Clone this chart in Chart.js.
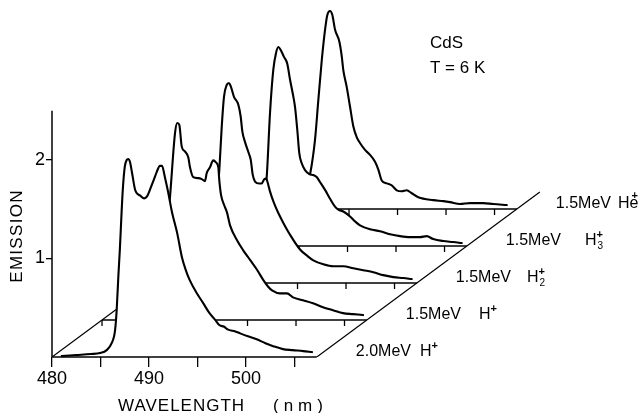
<!DOCTYPE html>
<html><head><meta charset="utf-8">
<script src="https://cdn.jsdelivr.net/npm/chart.js@4"></script>
<style>html,body{margin:0;padding:0;background:#fff}#wrap{width:638px;height:413px;position:relative}</style>
</head><body><div id="wrap"><canvas id="c"></canvas></div>
<script>
// ---------- data ----------
const energies = ['2.0MeV', '1.5MeV', '1.5MeV', '1.5MeV', '1.5MeV'];
const ions     = ['H', 'H', 'H', 'H', 'He'];
const ionSubs  = ['', '', '2', '3', ''];
const xTicks = [480, 485, 490, 495, 500, 505];
const xLabelTicks = [480, 490, 500];
const yTicks = [1, 2];

// 2.0 MeV H+ (front)
const wl0 = [481.0, 482.5, 484.0, 484.95, 485.64, 486.15, 486.5, 486.67, 486.84, 487.0, 487.15, 487.3, 487.5, 487.7, 487.85, 488.04, 488.25, 488.56, 488.76, 489.07, 489.5, 489.8, 490.1, 490.5, 490.8, 491.13, 491.34, 491.65, 491.96, 492.37, 492.9, 493.4, 493.8, 494.2, 494.85, 495.57, 496.2, 496.8, 497.3, 497.7, 498.1, 498.9, 499.4, 500.2, 501.1, 502.0, 502.8, 503.8, 504.8, 505.9, 506.8];
const em0 = [0.01, 0.02, 0.03, 0.04, 0.07, 0.14, 0.27, 0.48, 0.82, 1.10, 1.42, 1.70, 1.93, 2.00, 2.01, 1.98, 1.87, 1.70, 1.66, 1.64, 1.61, 1.63, 1.70, 1.80, 1.88, 1.94, 1.94, 1.82, 1.68, 1.47, 1.26, 1.01, 0.88, 0.78, 0.66, 0.55, 0.45, 0.38, 0.32, 0.31, 0.28, 0.26, 0.24, 0.21, 0.18, 0.14, 0.11, 0.08, 0.07, 0.06, 0.05];
// 1.5 MeV H+
const wl1 = [483.0, 485.5, 486.2, 486.6, 487.01, 487.53, 487.76, 487.97, 488.22, 488.56, 488.9, 489.07, 489.41, 489.93, 490.28, 490.62, 490.79, 491.13, 491.47, 491.75, 491.99, 492.09, 492.27, 492.58, 492.89, 493.2, 493.92, 494.54, 495.26, 495.98, 496.6, 497.11, 497.53, 498.35, 499.07, 499.69, 500.72, 501.75, 502.78, 503.81, 504.85, 505.88, 506.91];
const em1 = [0.02, 0.08, 0.35, 0.80, 1.25, 1.90, 2.00, 1.98, 1.76, 1.71, 1.65, 1.55, 1.45, 1.44, 1.43, 1.41, 1.49, 1.55, 1.62, 1.60, 1.55, 1.42, 1.27, 1.17, 1.09, 0.96, 0.81, 0.71, 0.61, 0.51, 0.41, 0.34, 0.30, 0.27, 0.27, 0.23, 0.20, 0.17, 0.13, 0.10, 0.07, 0.06, 0.05];
// 1.5 MeV H2+
const wl2 = [483.0, 485.5, 486.2, 486.6, 486.94, 487.19, 487.42, 487.7, 487.94, 488.14, 488.45, 488.9, 489.14, 489.31, 489.59, 489.93, 490.18, 490.38, 490.62, 491.06, 491.31, 491.55, 491.75, 491.89, 492.16, 492.58, 493.02, 493.54, 494.23, 495.26, 495.95, 496.63, 497.66, 498.69, 499.72, 500.75, 501.78, 502.81, 503.84, 504.88, 505.91, 506.77];
const em2 = [0.02, 0.08, 0.35, 0.75, 1.15, 1.59, 1.89, 2.01, 2.03, 1.99, 1.89, 1.81, 1.69, 1.54, 1.43, 1.33, 1.25, 1.10, 1.03, 1.01, 1.01, 1.05, 1.06, 1.03, 0.93, 0.81, 0.71, 0.61, 0.49, 0.34, 0.28, 0.23, 0.19, 0.17, 0.17, 0.15, 0.13, 0.11, 0.08, 0.06, 0.05, 0.04];
// 1.5 MeV H3+
const wl3 = [483.0, 485.5, 486.2, 486.67, 487.01, 487.35, 487.63, 487.87, 488.11, 488.45, 488.79, 489.07, 489.35, 489.59, 489.82, 490.03, 490.28, 490.62, 491.06, 491.47, 491.82, 492.16, 492.68, 493.2, 493.71, 494.05, 494.57, 495.26, 495.77, 496.29, 497.32, 498.35, 499.38, 500.41, 501.44, 502.47, 503.16, 503.84, 504.87, 505.91, 506.77];
const em3 = [0.02, 0.08, 0.30, 0.70, 1.35, 1.79, 1.96, 2.02, 1.99, 1.92, 1.85, 1.69, 1.55, 1.41, 1.18, 0.94, 0.84, 0.77, 0.73, 0.72, 0.70, 0.65, 0.57, 0.48, 0.40, 0.37, 0.35, 0.30, 0.25, 0.21, 0.17, 0.15, 0.12, 0.10, 0.09, 0.09, 0.10, 0.07, 0.05, 0.04, 0.03];
// 1.5 MeV He+
const wl4 = [483.0, 484.5, 485.5, 485.98, 486.49, 486.84, 487.19, 487.53, 487.76, 488.04, 488.28, 488.56, 489.0, 489.25, 489.41, 489.76, 490.1, 490.44, 490.79, 491.13, 491.65, 492.16, 492.68, 493.02, 493.37, 493.89, 494.4, 494.92, 495.43, 495.95, 496.46, 497.14, 498.69, 499.72, 500.41, 501.44, 502.47, 503.84, 504.87, 506.26];
const em4 = [0.02, 0.05, 0.18, 0.35, 0.70, 1.11, 1.51, 1.82, 1.97, 2.01, 1.97, 1.82, 1.70, 1.55, 1.41, 1.24, 1.04, 0.84, 0.73, 0.67, 0.60, 0.55, 0.48, 0.40, 0.29, 0.26, 0.24, 0.19, 0.18, 0.19, 0.16, 0.12, 0.09, 0.08, 0.07, 0.05, 0.06, 0.06, 0.05, 0.04];

const wavelengths = [wl0, wl1, wl2, wl3, wl4];
const emissions   = [em0, em1, em2, em3, em4];

// ---------- layout of the 3-D stack ----------
const X_MIN = 480, X_MAX = 540.41, Y_MAX = 3.624;
const AXIS_END = 507.3;      // end of each wavelength baseline
const Y_AXIS_TOP = 2.5;
const DX = 5.155, DY = 0.3756; // shift of each successive spectrum
const DIAG_LAYERS = 4.46;
const BACK_TICK = 0.062;

const datasets = [];
const base = { pointRadius: 0, borderColor: '#000', tension: 0 };

for (let k = 0; k < 5; k++) {
  const wl = wavelengths[k], em = emissions[k];
  const n = Math.min(wl.length, em.length);
  const data = [];
  for (let i = 0; i < n; i++) data.push({ x: wl[i] + k * DX, y: em[i] + k * DY });
  datasets.push(Object.assign({}, base, {
    data, borderWidth: 2.1, borderJoinStyle: 'round', borderCapStyle: 'round',
    cubicInterpolationMode: 'monotone',
    fill: { value: k * DY }, backgroundColor: '#fff', order: 10 * k + 5
  }));
  if (k > 0) {
    datasets.push(Object.assign({}, base, {
      data: [{ x: X_MIN + k * DX, y: k * DY }, { x: AXIS_END + k * DX, y: k * DY }],
      borderWidth: 1.4, fill: false, order: 10 * k + 4
    }));
    const td = [];
    xTicks.forEach(t => {
      td.push({ x: t + k * DX, y: k * DY });
      td.push({ x: t + k * DX, y: k * DY - BACK_TICK });
      td.push({ x: t + k * DX, y: null });
    });
    datasets.push(Object.assign({}, base, { data: td, borderWidth: 1.3, fill: false, order: 10 * k + 4 }));
  }
}
// front axes
datasets.push(Object.assign({}, base, { data: [{ x: X_MIN, y: 0 }, { x: AXIS_END, y: 0 }], borderWidth: 1.5, clip: false, order: 3 }));
datasets.push(Object.assign({}, base, { data: [{ x: X_MIN, y: 0 }, { x: X_MIN, y: Y_AXIS_TOP }], borderWidth: 1.5, clip: false, order: 3 }));
// side diagonals
datasets.push(Object.assign({}, base, { data: [{ x: X_MIN, y: 0 }, { x: X_MIN + 4 * DX, y: 4 * DY }], borderWidth: 1.2, order: 100 }));
datasets.push(Object.assign({}, base, { data: [{ x: AXIS_END, y: 0 }, { x: AXIS_END + DIAG_LAYERS * DX, y: DIAG_LAYERS * DY }], borderWidth: 1.2, order: 100 }));

const FONT = '"Liberation Sans", Arial, sans-serif';

const textPlugin = {
  id: 'texts',
  beforeDraw(chart) {
    const c = chart.ctx;
    c.save(); c.fillStyle = '#fff'; c.fillRect(0, 0, chart.width, chart.height); c.restore();
  },
  afterDraw(chart) {
    const c = chart.ctx, xs = chart.scales.x, ys = chart.scales.y;
    c.save();
    c.fillStyle = '#000';
    c.textBaseline = 'alphabetic';
    c.textAlign = 'left';
    // layer labels
    const gaps = [9, 18, 16, 24, 7];
    for (let k = 0; k < 5; k++) {
      const left = xs.getPixelForValue(AXIS_END + k * DX) + 39;
      const bl = ys.getPixelForValue(k * DY) - 1;
      c.font = '16px ' + FONT;
      c.fillText(energies[k], left, bl);
      const ix = left + c.measureText(energies[k]).width + gaps[k];
      c.fillText(ions[k], ix, bl);
      const iw = c.measureText(ions[k]).width;
      c.font = 'bold 11px ' + FONT;
      if (ions[k] === 'He') c.fillText('+', ix + iw - 7, bl - 9);
      else c.fillText('+', ix + iw, bl - 7);
      if (ionSubs[k]) { c.font = '10px ' + FONT; c.fillText(ionSubs[k], ix + iw + 1, bl + 4); }
    }
    // sample
    c.font = '17px ' + FONT;
    c.fillText('CdS', 430, 48);
    c.fillText('T = 6 K', 430, 73);
    // axis titles
    c.font = '17px ' + FONT;
    c.letterSpacing = '1px';
    c.fillText('WAVELENGTH', 118, 411);
    c.letterSpacing = '5px';
    c.fillText('(nm)', 273, 411);
    c.letterSpacing = '1.3px';
    c.translate(22, 236);
    c.rotate(-Math.PI / 2);
    c.textAlign = 'center';
    c.fillText('EMISSION', 0, 0);
    c.restore();
  }
};

new Chart(document.getElementById('c'), {
  type: 'line',
  data: { datasets },
  plugins: [textPlugin],
  options: {
    responsive: true, maintainAspectRatio: false, animation: false, devicePixelRatio: 1,
    layout: { padding: 0 },
    plugins: { legend: { display: false }, tooltip: { enabled: false } },
    elements: { point: { radius: 0 } },
    scales: {
      x: {
        type: 'linear', min: X_MIN, max: X_MAX,
        afterFit(s) { s.height = 56; s.paddingLeft = 0; s.paddingRight = 0; },
        afterBuildTicks(s) { s.ticks = xTicks.map(v => ({ value: v })); },
        ticks: { autoSkip: false, maxRotation: 0, padding: 1, color: '#000', font: { family: FONT, size: 18 },
                 callback: v => xLabelTicks.includes(v) ? String(v) : '' },
        grid: { drawOnChartArea: false, drawTicks: true, tickLength: 10, color: '#000', lineWidth: 1.3 },
        border: { display: false }
      },
      y: {
        type: 'linear', min: 0, max: Y_MAX,
        afterFit(s) { s.width = 52; s.paddingTop = 0; s.paddingBottom = 0; },
        afterBuildTicks(s) { s.ticks = yTicks.map(v => ({ value: v })); },
        ticks: { padding: 1, color: '#000', font: { family: FONT, size: 18 } },
        grid: { drawOnChartArea: false, drawTicks: true, tickLength: 6, color: '#000', lineWidth: 1.3 },
        border: { display: false }
      }
    }
  }
});
</script></body></html>
